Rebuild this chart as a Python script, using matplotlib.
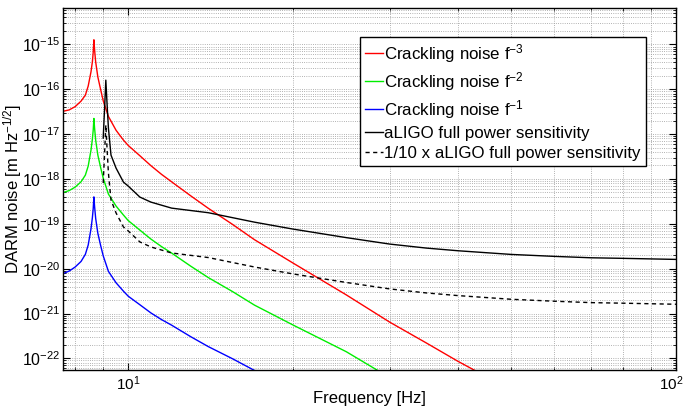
import numpy as np
import matplotlib
matplotlib.use('Agg')
import matplotlib.pyplot as plt
from matplotlib.transforms import ScaledTranslation

plt.rcParams['font.family'] = ['Liberation Sans', 'DejaVu Sans']
plt.rcParams['mathtext.fontset'] = 'custom'
plt.rcParams['mathtext.rm'] = 'Liberation Sans'
plt.rcParams['mathtext.it'] = 'Liberation Sans'
plt.rcParams['mathtext.default'] = 'regular'

# frequencies [Hz] for the crackling noise curves
f_crack = [7.6, 7.8, 8.0, 8.2, 8.35, 8.45, 8.55, 8.6, 8.63, 8.655, 8.68, 8.72, 8.8, 8.9,
           9.0, 9.2, 9.5, 9.8, 10, 10.5, 11, 11.5, 12, 13, 14, 15.5, 17, 20, 25, 30, 35, 40, 45]

# crackling noise [m/sqrt(Hz)]
crack_f3 = [3.23e-17, 3.47e-17, 4.11e-17, 5.45e-17, 7.41e-17, 1.18e-16, 2.46e-16, 4.09e-16,
            6.67e-16, 1.27e-15, 7.54e-16, 4.07e-16, 1.88e-16, 1.01e-16, 5.56e-17, 2.48e-17,
            1.22e-17, 7.36e-18, 5.58e-18, 3.30e-18, 1.98e-18, 1.27e-18, 8.65e-19, 4.22e-19,
            2.22e-19, 9.72e-20, 4.43e-20, 1.33e-20, 2.61e-21, 6.45e-22, 2.21e-22, 8.58e-23,
            3.95e-23]
crack_f2 = [4.97e-19, 5.51e-19, 6.59e-19, 8.65e-19, 1.22e-18, 1.94e-18, 4.40e-18, 7.75e-18,
            1.23e-17, 2.24e-17, 1.36e-17, 7.36e-18, 3.41e-18, 1.84e-18, 1.05e-18, 4.60e-19,
            2.49e-19, 1.57e-19, 1.18e-19, 7.25e-20, 4.57e-20, 3.11e-20, 2.23e-20, 1.14e-20,
            6.33e-21, 3.09e-21, 1.54e-21, 5.53e-22, 1.41e-22, 3.74e-23]
crack_f1 = [7.78e-21, 8.84e-21, 1.09e-20, 1.45e-20, 2.09e-20, 3.36e-20, 7.75e-20, 1.37e-19,
            2.18e-19, 3.99e-19, 2.44e-19, 1.32e-19, 6.15e-20, 3.36e-20, 1.94e-20, 8.71e-21,
            4.85e-21, 3.15e-21, 2.43e-21, 1.57e-21, 1.03e-21, 7.33e-22, 5.50e-22, 3.05e-22,
            1.83e-22, 9.81e-23, 5.38e-23, 2.27e-23]

# aLIGO full power sensitivity
f_aligo = [9.0, 9.05, 9.1, 9.15, 9.2, 9.3, 9.5, 9.8, 10, 10.5, 11, 12, 14, 17, 20, 25, 30,
           35, 40, 50, 60, 70, 80, 100]
aligo = [8.15e-18, 3.43e-17, 1.60e-16, 4.44e-17, 1.36e-17, 3.41e-18, 1.75e-18, 8.52e-19,
         6.94e-19, 3.95e-19, 3.05e-19, 2.24e-19, 1.77e-19, 1.09e-19, 7.63e-20, 4.93e-20,
         3.54e-20, 2.88e-20, 2.51e-20, 2.08e-20, 1.88e-20, 1.75e-20, 1.70e-20, 1.61e-20]

fig = plt.figure(figsize=(6.86, 4.12), dpi=100)
ax = fig.add_axes([0.0918, 0.1019, 0.8936, 0.8787])

ax.loglog(f_crack, crack_f3, color='red', lw=1.0, label='Crackling noise f$^{-3}$')
ax.loglog(f_crack[:len(crack_f2)], crack_f2, color='#00ee00', lw=1.0, label='Crackling noise f$^{-2}$')
ax.loglog(f_crack[:len(crack_f1)], crack_f1, color='blue', lw=1.0, label='Crackling noise f$^{-1}$')
ax.loglog(f_aligo, aligo, color='black', lw=1.0, label='aLIGO full power sensitivity')
ax.loglog(f_aligo, np.array(aligo) / 10, color='black', lw=1.0, ls=(0, (3, 2.5)),
          label='1/10 x aLIGO full power sensitivity')

ax.set_xlim(7.6, 100)
ax.set_ylim(5.5e-23, 6.5e-15)
ax.set_yticks([10.0 ** k for k in range(-22, -14)])
ax.set_xticks([10, 100])

ax.grid(True, which='both', ls=':', color='0.6', lw=0.6)
ax.tick_params(which='both', direction='in', top=True, right=True, labelsize=11.5)
ax.tick_params(axis='x', labelsize=11)
ax.tick_params(which='major', length=5)
ax.tick_params(which='minor', length=2.5)
ax.tick_params(axis='y', pad=2)
for s in ax.spines.values():
    s.set_linewidth(1.0)

# pull the 10^2 label a little left so it stays inside the figure
lab = ax.xaxis.get_major_ticks()[-1].label1
lab.set_transform(lab.get_transform() + ScaledTranslation(-0.05, 0, fig.dpi_scale_trans))

ax.set_xlabel('Frequency [Hz]', fontsize=12)
ax.set_ylabel('DARM noise [m Hz$^{-1/2}$]', fontsize=12)
ax.xaxis.set_label_coords(0.5, -0.057)
ax.yaxis.set_label_coords(-0.064, 0.5)

leg = ax.legend(loc='upper right', bbox_to_anchor=(0.951, 0.92), borderaxespad=0,
                fontsize=12.2, handlelength=1.05, handletextpad=0.1, labelspacing=0.3,
                fancybox=False, framealpha=1, edgecolor='black', borderpad=0.3)
leg.get_frame().set_linewidth(1.0)

fig.savefig('out.png', dpi=100)
